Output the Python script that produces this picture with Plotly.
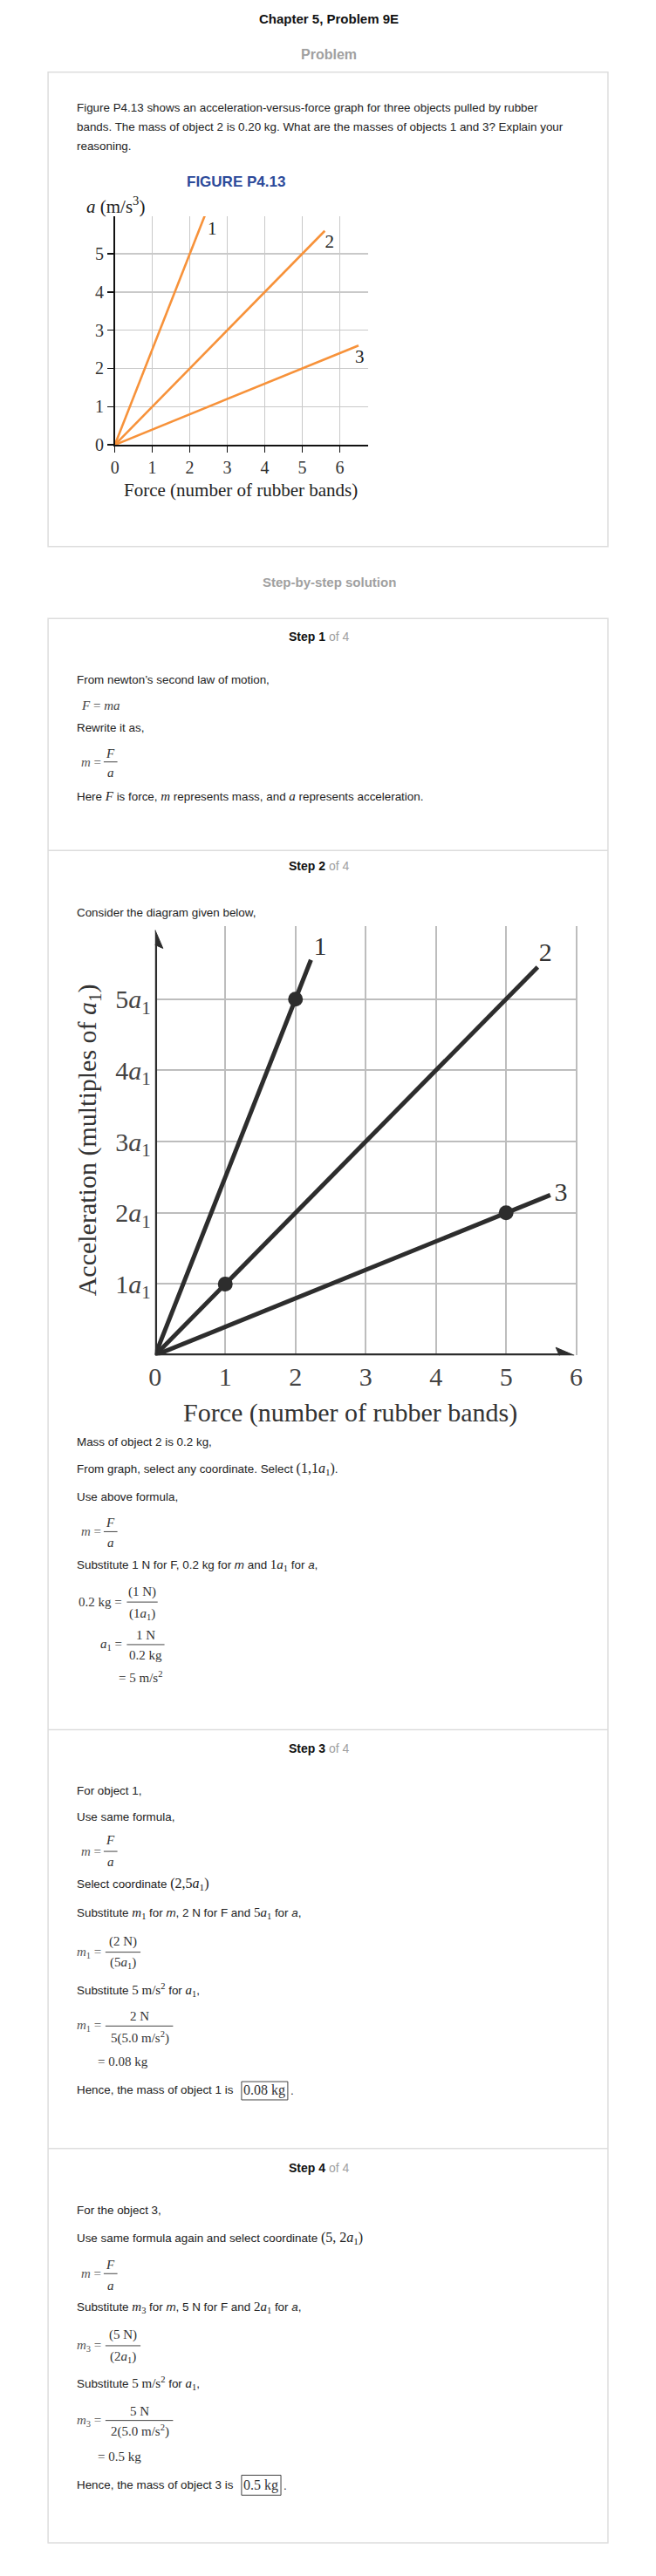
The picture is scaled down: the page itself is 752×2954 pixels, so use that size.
import plotly.graph_objects as go

W, H = 752, 2954
SANS = "Liberation Sans, Arial, sans-serif"
SERIF = "Liberation Serif, Times New Roman, serif"
BODY = 13.4

# ---------------- Figure P4.13 data ----------------
fig1_force_1 = [0, 2.4]
fig1_acc_1 = [0, 6.0]
fig1_force_2 = [0, 5.6]
fig1_acc_2 = [0, 5.6]
fig1_force_3 = [0, 6.5]
fig1_acc_3 = [0, 2.6]
fig1_labels = ["1", "2", "3"]
fig1_label_x = [2.6, 5.73, 6.53]
fig1_label_y = [5.63, 5.27, 2.27]
fig1_xticks = [0, 1, 2, 3, 4, 5, 6]
fig1_yticks = [0, 1, 2, 3, 4, 5]

# ---------------- Step 2 diagram data ----------------
fig2_force_1 = [0, 2.22]
fig2_acc_1 = [0, 5.55]
fig2_force_2 = [0, 5.45]
fig2_acc_2 = [0, 5.45]
fig2_force_3 = [0, 5.63]
fig2_acc_3 = [0, 2.25]
fig2_point_force = [2, 1, 5]
fig2_point_acc = [5, 1, 2]
fig2_labels = ["1", "2", "3"]
fig2_label_x = [2.35, 5.56, 5.78]
fig2_label_y = [5.71, 5.63, 2.26]
fig2_xticks = [0, 1, 2, 3, 4, 5, 6]
fig2_yticks = [1, 2, 3, 4, 5]
fig2_yticktext = [f"{k}<i>a</i><sub>1</sub>" for k in fig2_yticks]

ORANGE = "#F7923A"
DARK = "#2d2d2d"

fig = go.Figure()

# chart 1 lines
for fx, fy in [(fig1_force_1, fig1_acc_1), (fig1_force_2, fig1_acc_2), (fig1_force_3, fig1_acc_3)]:
    fig.add_trace(go.Scatter(x=fx, y=fy, mode="lines", line=dict(color=ORANGE, width=2.6),
                             xaxis="x", yaxis="y", showlegend=False, hoverinfo="skip"))
fig.add_trace(go.Scatter(x=fig1_label_x, y=fig1_label_y, mode="text", text=fig1_labels,
                         textfont=dict(family=SERIF, size=21, color="#222"), cliponaxis=False,
                         xaxis="x", yaxis="y", showlegend=False, hoverinfo="skip"))

# chart 2 lines
for fx, fy in [(fig2_force_1, fig2_acc_1), (fig2_force_2, fig2_acc_2), (fig2_force_3, fig2_acc_3)]:
    fig.add_trace(go.Scatter(x=fx, y=fy, mode="lines", line=dict(color=DARK, width=5),
                             xaxis="x2", yaxis="y2", showlegend=False, hoverinfo="skip"))
fig.add_trace(go.Scatter(x=fig2_point_force, y=fig2_point_acc, mode="markers",
                         marker=dict(color=DARK, size=17), xaxis="x2", yaxis="y2",
                         showlegend=False, hoverinfo="skip", cliponaxis=False))
fig.add_trace(go.Scatter(x=fig2_label_x, y=fig2_label_y, mode="text", text=fig2_labels,
                         textfont=dict(family=SERIF, size=30, color="#333"), cliponaxis=False,
                         xaxis="x2", yaxis="y2", showlegend=False, hoverinfo="skip"))

ann = []
shapes = []


def T(x, y, text, size=BODY, color="#222", family=SANS, anchor="left", angle=0):
    ann.append(dict(xref="paper", yref="paper", x=x / W, y=1 - y / H, text=text,
                    showarrow=False, xanchor=anchor, yanchor="middle", textangle=angle,
                    font=dict(size=size, color=color, family=family)))


def L(x0, y0, x1, y1, color="#333", width=1):
    shapes.append(dict(type="line", xref="paper", yref="paper", x0=x0 / W, x1=x1 / W,
                       y0=1 - y0 / H, y1=1 - y1 / H, line=dict(color=color, width=width)))


def R(x0, y0, x1, y1, color="#ddd", width=1.5):
    shapes.append(dict(type="rect", xref="paper", yref="paper", x0=x0 / W, x1=x1 / W,
                       y0=1 - y0 / H, y1=1 - y1 / H, line=dict(color=color, width=width)))


def S(t, size=15):
    return f'<span style="font-family:Liberation Serif;font-size:{size}px">{t}</span>'


def M(x, y, text, size=15, anchor="left", color="#333"):
    T(x, y, text, size=size, color=color, family=SERIF, anchor=anchor)


def FRAC(xc, yn, yb, yd, num, den, x0, x1):
    M(xc, yn, num, anchor="center")
    M(xc, yd, den, anchor="center")
    L(x0, yb, x1, yb, color="#444", width=1)


def MFA(yn, yb, yd):
    M(85, yb, "<i>m</i> =", color="#555")
    FRAC(121, yn, yb, yd, "<i>F</i>", "<i>a</i>", 113, 129)


def HEADER(y, n):
    T(364, y, f'<b>Step {n}</b> <span style="color:#a0a0a0">of 4</span>', size=14, color="#111", anchor="center")


# ---- top
T(376, 22, "<b>Chapter 5, Problem 9E</b>", 15, "#111", anchor="center")
T(376, 63, "<b>Problem</b>", 16, "#a0a0a0", anchor="center")
R(48, 83, 702, 629)
T(79, 124, "Figure P4.13 shows an acceleration-versus-force graph for three objects pulled by rubber")
T(79, 146, "bands. The mass of object 2 is 0.20 kg. What are the masses of objects 1 and 3? Explain your")
T(79, 168, "reasoning.")
T(267, 209, "<b>FIGURE P4.13</b>", 17, "#2c4a9a", anchor="center")
T(91, 236, "<i>a</i> (m/s<sup>3</sup>)", 21, "#222", SERIF)
T(273, 564, "Force (number of rubber bands)", 21, "#222", SERIF, anchor="center")

T(376, 670, "<b>Step-by-step solution</b>", 15, "#a0a0a0", anchor="center")

# ---- steps box
R(48, 712, 702, 2927)
L(48, 979, 702, 979, "#ddd", 1.5)
L(48, 1991, 702, 1991, "#ddd", 1.5)
L(48, 2473, 702, 2473, "#ddd", 1.5)

# Step 1
HEADER(733, 1)
T(79, 782, "From newton’s second law of motion,")
M(85, 812, "<i>F</i> = <i>ma</i>", color="#444")
T(79, 838, "Rewrite it as,")
MFA(867, 877, 889)
T(79, 916, "Here " + S("<i>F</i>") + " is force, " + S("<i>m</i>") + " represents mass, and "
  + S("<i>a</i>") + " represents acceleration.")

# Step 2
HEADER(997, 2)
T(79, 1050, "Consider the diagram given below,")
T(96, 1312, "Acceleration (multiples of <i>a</i><sub>1</sub>)", 30, "#333", SERIF, anchor="center", angle=-90)
T(401, 1626, "Force (number of rubber bands)", 30, "#333", SERIF, anchor="center")
T(79, 1660, "Mass of object 2 is 0.2 kg,")
T(79, 1691, "From graph, select any coordinate. Select " + S("(1,1<i>a</i><sub>1</sub>)", 16) + ".")
T(79, 1723, "Use above formula,")
MFA(1753, 1763, 1776)
T(79, 1802, "Substitute 1 N for F, 0.2 kg for <i>m</i> and " + S("1<i>a</i><sub>1</sub>") + " for <i>a</i>,")
M(137, 1844, "0.2 kg =", anchor="right")
FRAC(158, 1832, 1844, 1858, "(1 N)", "(1<i>a</i><sub>1</sub>)", 140, 176)
M(137, 1893, "<i>a</i><sub>1</sub> =", anchor="right")
FRAC(162, 1882, 1893, 1905, "1 N", "0.2 kg", 140, 184)
M(128, 1930, "= 5 m/s<sup>2</sup>")

# Step 3
HEADER(2012, 3)
T(79, 2061, "For object 1,")
T(79, 2091, "Use same formula,")
MFA(2118, 2131, 2143)
T(79, 2169, "Select coordinate " + S("(2,5<i>a</i><sub>1</sub>)", 16))
T(79, 2202, "Substitute " + S("<i>m</i><sub>1</sub>") + " for <i>m</i>, 2 N for F and "
  + S("5<i>a</i><sub>1</sub>") + " for <i>a</i>,")
M(112, 2247, "<i>m</i><sub>1</sub> =", anchor="right", color="#555")
FRAC(136, 2235, 2247, 2259, "(2 N)", "(5<i>a</i><sub>1</sub>)", 115, 156)
T(79, 2291, "Substitute " + S("5 m/s<sup>2</sup>") + " for " + S("<i>a</i><sub>1</sub>") + ",")
M(112, 2332, "<i>m</i><sub>1</sub> =", anchor="right", color="#555")
FRAC(155, 2321, 2332, 2345, "2 N", "5(5.0 m/s<sup>2</sup>)", 115, 194)
M(104, 2373, "= 0.08 kg")
T(79, 2405, "Hence, the mass of object 1 is")
R(274, 2396, 328, 2417, "#444", 1)
M(301, 2406, "0.08 kg", size=16, anchor="center", color="#333")
T(329, 2406, ".")

# Step 4
HEADER(2495, 4)
T(79, 2544, "For the object 3,")
T(79, 2576, "Use same formula again and select coordinate " + S("(5, 2<i>a</i><sub>1</sub>)", 16))
MFA(2607, 2617, 2631)
T(79, 2656, "Substitute " + S("<i>m</i><sub>3</sub>") + " for <i>m</i>, 5 N for F and "
  + S("2<i>a</i><sub>1</sub>") + " for <i>a</i>,")
M(112, 2700, "<i>m</i><sub>3</sub> =", anchor="right", color="#555")
FRAC(136, 2688, 2700, 2713, "(5 N)", "(2<i>a</i><sub>1</sub>)", 115, 156)
T(79, 2743, "Substitute " + S("5 m/s<sup>2</sup>") + " for " + S("<i>a</i><sub>1</sub>") + ",")
M(112, 2786, "<i>m</i><sub>3</sub> =", anchor="right", color="#555")
FRAC(155, 2775, 2786, 2798, "5 N", "2(5.0 m/s<sup>2</sup>)", 115, 194)
M(104, 2828, "= 0.5 kg")
T(79, 2860, "Hence, the mass of object 3 is")
R(274, 2849, 320, 2872, "#444", 1)
M(297, 2861, "0.5 kg", size=16, anchor="center", color="#333")
T(321, 2861, ".")

# chart 2 axes with arrows
AX2_MAX = 6.02
AX2_TIP = 5.97
shapes.append(dict(type="line", xref="x2", yref="y2", x0=0, y0=0, x1=0, y1=AX2_TIP - 0.2,
                   line=dict(color=DARK, width=4.5)))
shapes.append(dict(type="line", xref="x2", yref="y2", x0=0, y0=0, x1=AX2_TIP - 0.2, y1=0,
                   line=dict(color=DARK, width=4.5)))
shapes.append(dict(type="path", xref="x2", yref="y2", xsizemode="pixel", ysizemode="pixel",
                   xanchor=0, yanchor=AX2_TIP, path="M0,0 L-9,-21 L0,-17 L9,-21 Z",
                   fillcolor=DARK, line=dict(color=DARK, width=1)))
shapes.append(dict(type="path", xref="x2", yref="y2", xsizemode="pixel", ysizemode="pixel",
                   xanchor=AX2_TIP, yanchor=0, path="M0,0 L-21,9 L-17,0 L-21,-9 Z",
                   fillcolor=DARK, line=dict(color=DARK, width=1)))

fig.update_layout(
    width=W, height=H, autosize=False,
    margin=dict(l=0, r=0, t=0, b=0, pad=0),
    paper_bgcolor="white", plot_bgcolor="rgba(0,0,0,0)",
    showlegend=False, hovermode=False,
    annotations=ann, shapes=shapes,
    xaxis=dict(domain=[126 / W, 422 / W], range=[0, 6.76], anchor="y",
               tickvals=fig1_xticks, ticks="outside", ticklen=7, tickwidth=1.5, tickcolor="#111",
               showline=True, linecolor="#111", linewidth=1.6,
               showgrid=True, gridcolor="#c9c9c9", gridwidth=1.5, zeroline=False,
               tickfont=dict(family=SERIF, size=20, color="#333"), fixedrange=True),
    yaxis=dict(domain=[1 - 512 / H, 1 - 249 / H], range=[0, 5.98], anchor="x",
               tickvals=fig1_yticks, ticks="outside", ticklen=7, tickwidth=1.5, tickcolor="#111",
               showline=True, linecolor="#111", linewidth=1.6,
               showgrid=True, gridcolor="#c9c9c9", gridwidth=1.5, zeroline=False,
               tickfont=dict(family=SERIF, size=20, color="#333"), fixedrange=True),
    xaxis2=dict(domain=[173 / W, (173 + AX2_MAX * 82) / W], range=[0, AX2_MAX], anchor="y2",
                tickvals=fig2_xticks, ticks="", showline=False,
                showgrid=True, gridcolor="#bdbdbd", gridwidth=2, zeroline=False,
                ticklabelstandoff=4,
                tickfont=dict(family=SERIF, size=30, color="#444"), fixedrange=True),
    yaxis2=dict(domain=[1 - 1560 / H, 1 - (1560 - AX2_MAX * 82) / H], range=[0, AX2_MAX], anchor="x2",
                tickvals=fig2_yticks, ticktext=fig2_yticktext, ticks="", showline=False,
                showgrid=True, gridcolor="#bdbdbd", gridwidth=2, zeroline=False,
                ticklabelstandoff=4,
                tickfont=dict(family=SERIF, size=30, color="#444"), fixedrange=True),
)

fig.write_html("out.html", config={"displayModeBar": False, "staticPlot": True},
               post_script="document.body.style.margin='0';document.body.style.overflow='hidden';")
